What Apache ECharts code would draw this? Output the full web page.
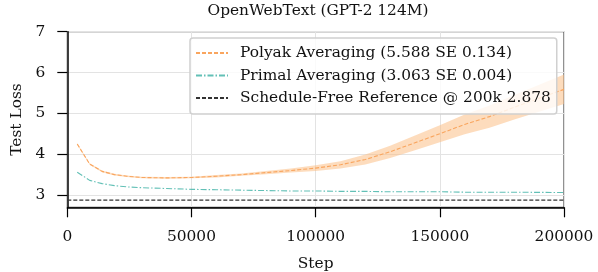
<!DOCTYPE html>
<html>
<head>
<meta charset="utf-8">
<script src="https://cdn.jsdelivr.net/npm/echarts@6/dist/echarts.min.js"></script>
<style>
html,body{margin:0;padding:0;background:#fff;}
#chart{width:598px;height:272px;}
</style>
</head>
<body>
<div id="chart"></div>
<script>
const steps = [4000, 9000, 14000, 19000, 24000, 30000, 40000, 50000, 60000, 70000, 80000, 90000, 100000, 110000, 120000, 130000, 140000, 150000, 160000, 170000, 180000, 190000, 200000];
const polyakMean = [4.25, 3.76, 3.58, 3.50, 3.46, 3.43, 3.42, 3.43, 3.46, 3.50, 3.55, 3.60, 3.66, 3.74, 3.87, 4.06, 4.28, 4.50, 4.73, 4.92, 5.15, 5.37, 5.588];
const polyakLower = [4.23, 3.74, 3.56, 3.48, 3.44, 3.41, 3.40, 3.41, 3.43, 3.47, 3.51, 3.55, 3.59, 3.65, 3.75, 3.91, 4.10, 4.29, 4.49, 4.65, 4.85, 5.04, 5.23];
const polyakUpper = [4.27, 3.78, 3.60, 3.52, 3.48, 3.45, 3.44, 3.45, 3.49, 3.53, 3.59, 3.65, 3.73, 3.83, 3.99, 4.21, 4.46, 4.71, 4.97, 5.19, 5.45, 5.70, 5.95];
const primalMean = [3.56, 3.36, 3.28, 3.23, 3.20, 3.18, 3.16, 3.14, 3.13, 3.12, 3.11, 3.10, 3.10, 3.09, 3.09, 3.08, 3.08, 3.08, 3.07, 3.07, 3.07, 3.065, 3.063];
const refSteps = [0, 200000];
const refValue = 2.878;
const xTicks = [0, 50000, 100000, 150000, 200000];
const yTicks = [3, 4, 5, 6, 7];
const titleText = 'OpenWebText (GPT-2 124M)';
const legendPolyak = 'Polyak Averaging (5.588 SE 0.134)';
const legendPrimal = 'Primal Averaging (3.063 SE 0.004)';
const legendRef = 'Schedule-Free Reference @ 200k 2.878';

const FONT = 'DejaVu Serif';
const FS = 15.4;
const pair = (xs, ys) => xs.map((x, i) => [x, ys[i]]);
const bandData = steps.map((x, i) => [x, polyakLower[i], polyakUpper[i]]);

const chart = echarts.init(document.getElementById('chart'), null, {renderer: 'canvas'});
chart.setOption({
  animation: false,
  backgroundColor: '#fff',
  title: {
    text: titleText, left: 313, top: -2, textAlign: 'center',
    textStyle: {fontFamily: FONT, fontSize: FS, fontWeight: 'normal', color: '#111'}
  },
  grid: {left: 67.3, right: 34, top: 31.7, bottom: 64.7, containLabel: false, outerBoundsMode: 'none',
    show: true, borderColor: '#222', borderWidth: 1},
  legend: {
    data: [legendPolyak, legendPrimal, legendRef],
    orient: 'vertical', left: 190, top: 38,
    padding: [7, 6, 8, 5], itemGap: 6.5, itemWidth: 32, itemHeight: 14,
    backgroundColor: 'rgba(255,255,255,0.8)', borderColor: '#d0d0d0', borderWidth: 1.5, borderRadius: 3,
    itemStyle: {opacity: 0, borderWidth: 0},
    textStyle: {fontFamily: FONT, fontSize: FS, color: '#111', lineHeight: 16, padding: [0, 0, 0, 7]}
  },
  xAxis: {
    type: 'value', min: 0, max: 200000, interval: 50000,
    name: 'Step', nameLocation: 'middle', nameGap: 49.5,
    nameTextStyle: {fontFamily: FONT, fontSize: FS, color: '#111'},
    axisLine: {show: true, onZero: false, lineStyle: {color: '#000', width: 1.5}},
    axisTick: {show: true, length: 10, lineStyle: {color: '#000', width: 1.2}},
    axisLabel: {fontFamily: FONT, fontSize: FS, color: '#111', margin: 22, showMinLabel: true, showMaxLabel: true,
      formatter: v => String(v)},
    splitLine: {show: true, lineStyle: {color: '#e3e3e3', width: 1}}
  },
  yAxis: {
    type: 'value', min: 2.7, max: 7,
    name: 'Test Loss', nameLocation: 'middle', nameGap: 40, nameRotate: 90,
    nameTextStyle: {fontFamily: FONT, fontSize: FS, color: '#111'},
    axisLine: {show: true, lineStyle: {color: '#000', width: 1.5}},
    axisTick: {show: true, length: 10, customValues: yTicks, lineStyle: {color: '#000', width: 1.2}},
    axisLabel: {fontFamily: FONT, fontSize: FS, color: '#111', margin: 22, customValues: yTicks, formatter: v => String(v)},
    splitLine: {show: true, lineStyle: {color: '#e3e3e3', width: 1}}
  },
  series: [
    {
      name: 'band', type: 'custom', data: bandData, silent: true, z: 1,
      encode: {x: 0, y: [1, 2]},
      renderItem: function (params, api) {
        if (params.dataIndex !== 0) return null;
        const lower = bandData.map(d => api.coord([d[0], d[1]]));
        const upper = bandData.map(d => api.coord([d[0], d[2]])).reverse();
        return {
          type: 'polygon',
          shape: {points: lower.concat(upper)},
          style: {fill: '#fbbf86', opacity: 0.55},
          clipPath: {type: 'rect', shape: {x: params.coordSys.x, y: params.coordSys.y, width: params.coordSys.width, height: params.coordSys.height}}
        };
      }
    },
    {
      name: legendPolyak, type: 'line', data: pair(steps, polyakMean), symbol: 'none',
      itemStyle: {color: '#f9a55e'},
      lineStyle: {color: '#f9a55e', width: 1.1, type: [4, 2]}, z: 3
    },
    {
      name: legendPrimal, type: 'line', data: pair(steps, primalMean), symbol: 'none',
      itemStyle: {color: '#62c0b6'},
      lineStyle: {color: '#62c0b6', width: 1.1, type: [6, 2, 1.5, 2]}, z: 3
    },
    {
      name: legendRef, type: 'line', data: pair(refSteps, [refValue, refValue]), symbol: 'none',
      itemStyle: {color: '#333'},
      lineStyle: {color: '#333', width: 1.2, type: [4, 2]}, z: 3
    }
  ]
});
</script>
</body>
</html>
